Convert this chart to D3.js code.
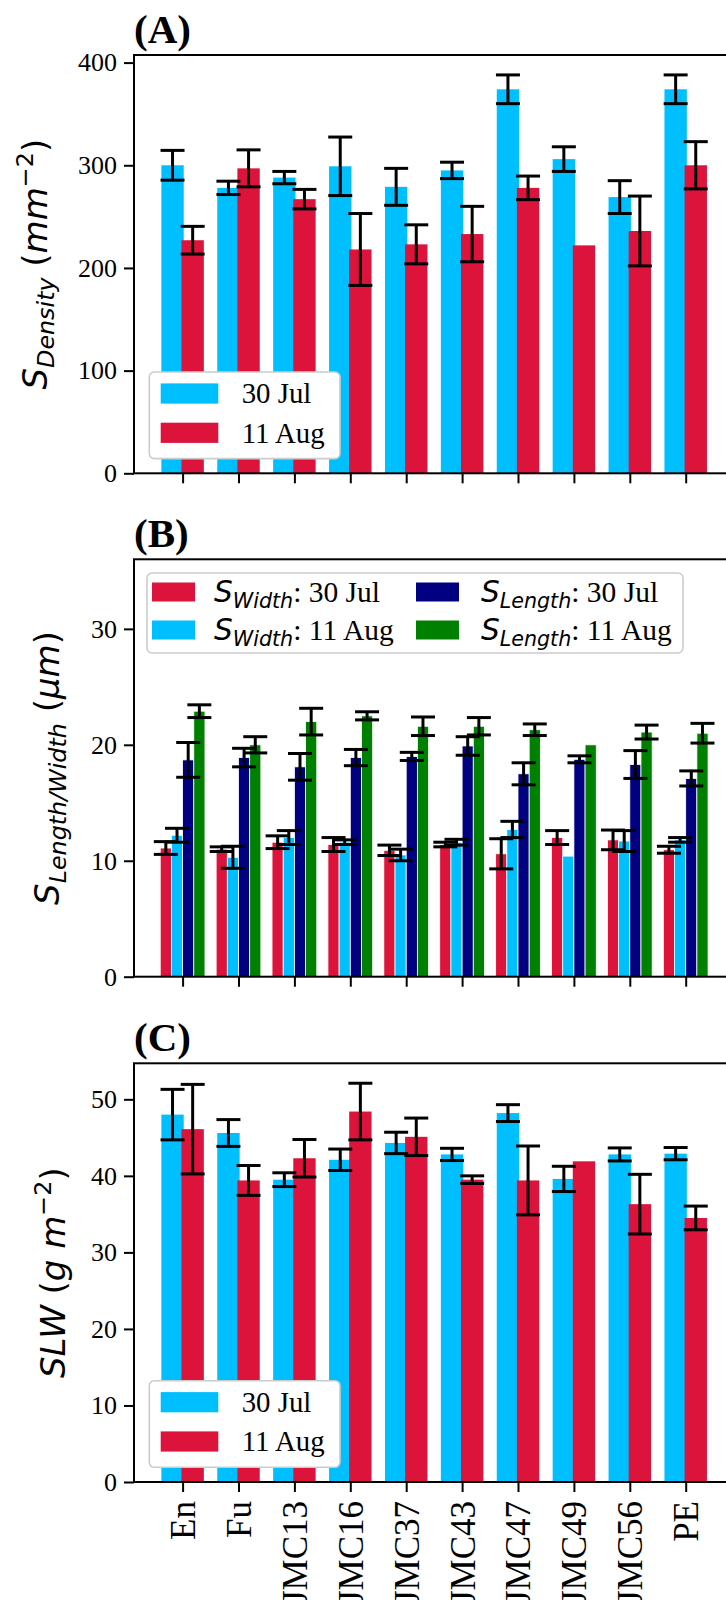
<!DOCTYPE html>
<html>
<head>
<meta charset="utf-8">
<script src="https://cdn.jsdelivr.net/npm/d3@7"></script>
<style>
  body { margin: 0; background: #fff; }
  svg { display: block; }
</style>
</head>
<body>
<svg id="fig" width="726" height="1600"></svg>
<script>
// ---- data ----
const categories = ["En", "Fu", "JMC13", "JMC16", "JMC37", "JMC43", "JMC47", "JMC49", "JMC56", "PE"];

// (A) stomatal density, mm^-2
const densityJul    = [300, 278, 288, 299, 279, 295, 374, 306, 269, 374];
const densityJulErr = [14.5, 6.5, 6, 28.5, 18, 8, 14, 12, 16, 14];
const densityAug    = [227, 297, 267, 218, 223, 233, 278, 222, 236, 300];
const densityAugErr = [13.5, 18, 9.5, 35, 19, 27, 11.5, null, 34, 23];

// (B) stomatal width / length, µm
const widthJul     = [11.1, 11.0, 11.6, 11.4, 10.9, 11.4, 10.6, 12.0, 11.8, 10.95];
const widthJulErr  = [0.55, 0.2, 0.55, 0.6, 0.45, 0.2, 1.3, 0.6, 0.85, 0.3];
const widthAug     = [12.2, 10.3, 12.0, 11.6, 10.5, 11.6, 12.7, 10.4, 11.7, 11.8];
const widthAugErr  = [0.6, 0.95, 0.6, 0.2, 0.5, 0.25, 0.7, null, 0.9, 0.2];
const lengthJul    = [18.7, 18.9, 18.1, 18.9, 19.0, 19.9, 17.5, 18.75, 18.3, 17.1];
const lengthJulErr = [1.5, 0.8, 1.15, 0.7, 0.35, 0.8, 0.95, 0.3, 1.2, 0.65];
const lengthAug    = [22.9, 20.0, 22.0, 22.5, 21.6, 21.6, 21.3, 20.0, 21.1, 21.0];
const lengthAugErr = [0.55, 0.7, 1.15, 0.35, 0.8, 0.75, 0.5, null, 0.6, 0.85];

// (C) specific leaf weight, g m^-2
const slwJul    = [48.0, 45.6, 39.5, 42.1, 44.3, 42.8, 48.2, 39.6, 42.8, 42.9];
const slwJulErr = [3.3, 1.75, 0.9, 1.4, 1.4, 0.8, 1.1, 1.65, 0.85, 0.8];
const slwAug    = [46.1, 39.4, 42.3, 48.4, 45.1, 39.5, 39.4, 41.9, 36.3, 34.5];
const slwAugErr = [5.85, 1.95, 2.45, 3.7, 2.45, 0.5, 4.5, null, 3.9, 1.55];

const densityTicks = [0, 100, 200, 300, 400];
const sizeTicks    = [0, 10, 20, 30];
const slwTicks     = [0, 10, 20, 30, 40, 50];

// ---- styling ----
const SKY = "#00BFFF", CRIMSON = "#DC143C", NAVY = "#000080", GREEN = "#008000";
const SERIF = "'Liberation Serif', 'Times New Roman', serif";
const SANS = "'DejaVu Sans', sans-serif";
const AX_LEFT = 134, AX_RIGHT = 734.6;

const svg = d3.select("#fig");
const x = d3.scalePoint().domain(categories).range([182.6, 685.7]);
const step = x.step();

// auto upper limit: 5% headroom above the tallest bar + error
function autoMax(pairs) {
  let m = 0;
  pairs.forEach(([v, e]) => v.forEach((d, i) => { m = Math.max(m, d + (e[i] || 0)); }));
  return m * 1.05;
}

// rotated label with mathtext-like sub/superscripts
function mathLabel(g, cx, cy, size, parts) {
  const t = g.append("text")
    .attr("transform", `translate(${cx},${cy}) rotate(-90)`)
    .attr("text-anchor", "middle")
    .attr("font-family", SANS)
    .attr("font-size", size)
    .attr("fill", "#000");
  let shift = 0;
  parts.forEach(p => {
    const target = p.sub ? size * 0.22 : p.sup ? -size * 0.42 : 0;
    t.append("tspan")
      .attr("font-style", p.it ? "italic" : "normal")
      .attr("font-size", (p.sub || p.sup) ? size * 0.7 : size)
      .attr("dy", target - shift)
      .text(p.t);
    shift = target;
  });
  return t;
}

function drawPanel(cfg) {
  const y = d3.scaleLinear().domain([0, cfg.yMax]).range([cfg.bottom, cfg.top]);
  const g = svg.append("g");

  // bars
  cfg.series.forEach(s => {
    g.append("g").selectAll("rect").data(categories).join("rect")
      .attr("x", (c) => x(c) + (s.offset - s.width / 2) * step)
      .attr("width", s.width * step)
      .attr("y", (c, i) => y(s.values[i]))
      .attr("height", (c, i) => y(0) - y(s.values[i]))
      .attr("fill", s.color)
      .attr("stroke", cfg.barEdge || "none")
      .attr("stroke-width", cfg.barEdge ? 0.8 : 0);
  });

  // error bars on top of every bar
  const cap = 12;
  cfg.series.forEach(s => {
    const eg = g.append("g").attr("stroke", "#000").attr("stroke-width", 3).attr("fill", "none");
    categories.forEach((c, i) => {
      const e = s.errs[i];
      if (e == null) return;
      const cx = x(c) + s.offset * step;
      const y1 = y(s.values[i] + e), y2 = y(s.values[i] - e);
      eg.append("line").attr("x1", cx).attr("x2", cx).attr("y1", y1).attr("y2", y2);
      eg.append("line").attr("x1", cx - cap).attr("x2", cx + cap).attr("y1", y1).attr("y2", y1);
      eg.append("line").attr("x1", cx - cap).attr("x2", cx + cap).attr("y1", y2).attr("y2", y2);
    });
  });

  // frame
  g.append("rect")
    .attr("x", AX_LEFT).attr("y", cfg.top)
    .attr("width", AX_RIGHT - AX_LEFT).attr("height", cfg.bottom - cfg.top)
    .attr("fill", "none").attr("stroke", "#000").attr("stroke-width", 2);

  // y axis
  const ya = g.append("g").attr("transform", `translate(${AX_LEFT},0)`)
    .call(d3.axisLeft(y).tickValues(cfg.ticks).tickSize(10).tickPadding(7).tickFormat(d3.format("d")));
  ya.select(".domain").remove();
  ya.selectAll(".tick line").attr("stroke", "#000").attr("stroke-width", 2);
  ya.selectAll(".tick text").attr("font-family", SERIF).attr("font-size", 26).attr("fill", "#000");

  // x axis
  const xa = g.append("g").attr("transform", `translate(0,${cfg.bottom})`)
    .call(d3.axisBottom(x).tickSize(10).tickPadding(8));
  xa.select(".domain").remove();
  xa.selectAll(".tick line").attr("stroke", "#000").attr("stroke-width", 2);
  if (cfg.xLabels) {
    xa.selectAll(".tick text")
      .attr("font-family", SERIF).attr("font-size", 35).attr("fill", "#000")
      .attr("text-anchor", "end")
      .attr("transform", "rotate(-90)")
      .attr("x", -19).attr("y", 0).attr("dy", "0.34em");
  } else {
    xa.selectAll(".tick text").remove();
  }

  // panel tag
  g.append("text").attr("x", AX_LEFT).attr("y", cfg.top - 12)
    .attr("font-family", SERIF).attr("font-weight", "bold").attr("font-size", 41)
    .attr("fill", "#000").text(cfg.tag);

  mathLabel(g, cfg.labelX, (cfg.top + cfg.bottom) / 2, 34, cfg.label);
  return { g, y };
}

// legend: frame, colour patches and entry texts at given geometry
function legend(g, box, fs, entries) {
  const lg = g.append("g");
  lg.append("rect").attr("rx", 5).attr("ry", 5)
    .attr("x", box.x).attr("y", box.y).attr("width", box.w).attr("height", box.h)
    .attr("fill", "#fff").attr("stroke", "#cccccc").attr("stroke-width", 1.6);
  entries.forEach(item => {
    lg.append("rect").attr("x", item.px).attr("y", item.cy - item.ph / 2)
      .attr("width", item.pw).attr("height", item.ph).attr("fill", item.color);
    const t = lg.append("text").attr("x", item.tx).attr("y", item.cy + fs * 0.34)
      .attr("font-family", SERIF).attr("font-size", fs).attr("fill", "#000");
    item.parts.forEach(p => {
      const ts = t.append("tspan").text(p.t);
      if (p.math) ts.attr("font-family", SANS).attr("font-style", "italic");
      if (p.sub) ts.attr("font-size", fs * 0.7).attr("dy", fs * 0.2);
      if (p.after) ts.attr("dy", -fs * 0.2);
    });
  });
}

// two-entry date legend anchored at the lower-left corner of a panel
function dateLegend(g, bottom) {
  const fs = 28.8, top = bottom - 14.7 - 86.6;
  legend(g, { x: 149.3, y: top, w: 190.7, h: 86.6 }, fs, [
    { color: SKY, px: 160.7, pw: 57.6, ph: 20.2, tx: 241.7, cy: top + 21.5, parts: [{ t: "30 Jul" }] },
    { color: CRIMSON, px: 160.7, pw: 57.6, ph: 20.2, tx: 241.7, cy: top + 60.8, parts: [{ t: "11 Aug" }] }
  ]);
}

const partsW = (d) => [{ t: "S", math: true }, { t: "Width", math: true, sub: true }, { t: ": " + d, after: true }];
const partsL = (d) => [{ t: "S", math: true }, { t: "Length", math: true, sub: true }, { t: ": " + d, after: true }];

// ---- panel A ----
const A = drawPanel({
  tag: "(A)", top: 55, bottom: 473.3, ticks: densityTicks,
  yMax: autoMax([[densityJul, densityJulErr], [densityAug, densityAugErr]]),
  series: [
    { values: densityJul, errs: densityJulErr, color: SKY, offset: -0.18, width: 0.4 },
    { values: densityAug, errs: densityAugErr, color: CRIMSON, offset: 0.18, width: 0.4 }
  ],
  labelX: 47,
  label: [{ t: "S", it: true }, { t: "Density", it: true, sub: true }, { t: " (" }, { t: "mm", it: true }, { t: "\u22122", sup: true }, { t: ")" }]
});
dateLegend(A.g, 473.3);

// ---- panel B ----
const B = drawPanel({
  tag: "(B)", top: 559.3, bottom: 976.7, ticks: sizeTicks, yMax: 36, barEdge: "#fff",
  series: [
    { values: widthJul, errs: widthJulErr, color: CRIMSON, offset: -0.3, width: 0.2 },
    { values: widthAug, errs: widthAugErr, color: SKY, offset: -0.1, width: 0.2 },
    { values: lengthJul, errs: lengthJulErr, color: NAVY, offset: 0.1, width: 0.2 },
    { values: lengthAug, errs: lengthAugErr, color: GREEN, offset: 0.3, width: 0.2 }
  ],
  labelX: 59,
  label: [{ t: "S", it: true }, { t: "Length/Width", it: true, sub: true }, { t: " (" }, { t: "\u03bcm", it: true }, { t: ")" }]
});
legend(B.g, { x: 147, y: 573, w: 536, h: 80 }, 29.5, [
  { color: CRIMSON, px: 152, pw: 43, ph: 19, tx: 214, cy: 592, parts: partsW("30 Jul") },
  { color: SKY, px: 152, pw: 43, ph: 19, tx: 214, cy: 630, parts: partsW("11 Aug") },
  { color: NAVY, px: 416, pw: 43, ph: 19, tx: 481, cy: 592, parts: partsL("30 Jul") },
  { color: GREEN, px: 416, pw: 43, ph: 19, tx: 481, cy: 630, parts: partsL("11 Aug") }
]);

// ---- panel C ----
const C = drawPanel({
  tag: "(C)", top: 1063.3, bottom: 1482, ticks: slwTicks, xLabels: true,
  yMax: autoMax([[slwJul, slwJulErr], [slwAug, slwAugErr]]),
  series: [
    { values: slwJul, errs: slwJulErr, color: SKY, offset: -0.18, width: 0.4 },
    { values: slwAug, errs: slwAugErr, color: CRIMSON, offset: 0.18, width: 0.4 }
  ],
  labelX: 65,
  label: [{ t: "SLW", it: true }, { t: " (" }, { t: "g", it: true }, { t: " " }, { t: "m", it: true }, { t: "\u22122", sup: true }, { t: ")" }]
});
dateLegend(C.g, 1482);
</script>
</body>
</html>
